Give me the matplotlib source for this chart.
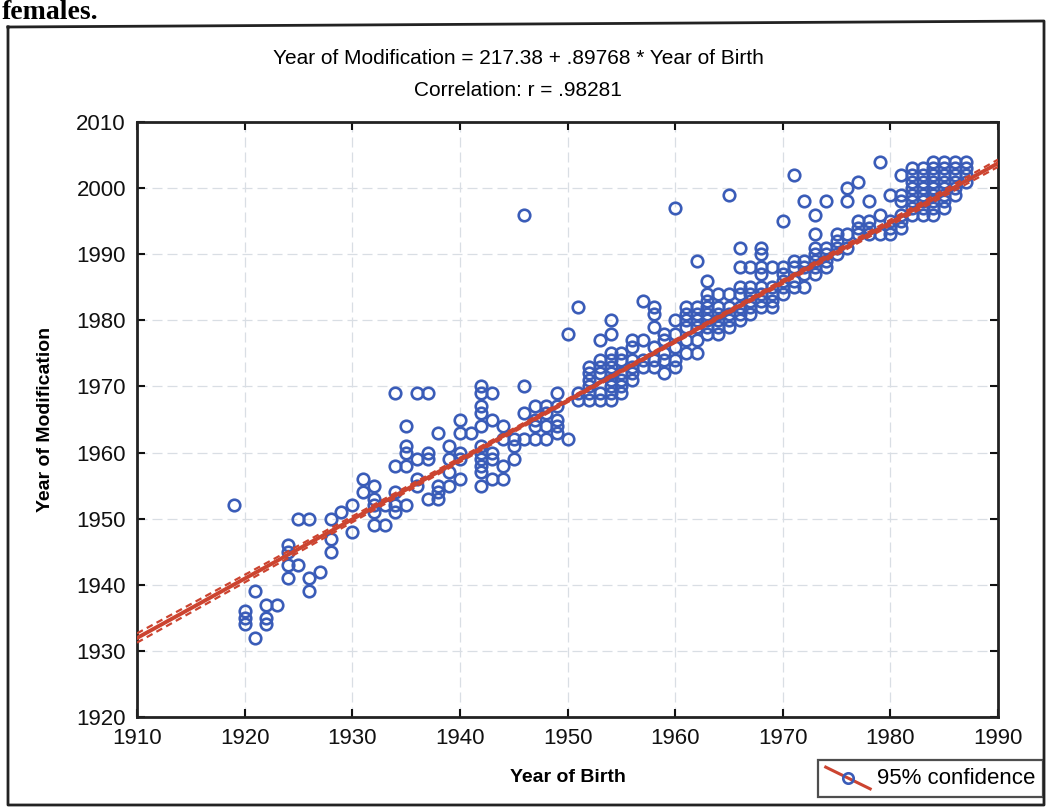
import numpy as np
import matplotlib
matplotlib.use("Agg")
import matplotlib.pyplot as plt
from matplotlib.lines import Line2D
from matplotlib.legend_handler import HandlerBase

plt.rcParams['font.family'] = ['Liberation Sans', 'DejaVu Sans']

# Year of birth (x) and the years of modification read for each birth year (y)
birth_years = list(range(1919, 1988))
mod_years = [
    [1952],                                   # 1919
    [1936, 1935, 1934],                       # 1920
    [1939, 1932],
    [1937, 1935, 1934],
    [1937],
    [1946, 1945, 1943, 1941],
    [1950, 1943],                             # 1925
    [1950, 1941, 1939],
    [1942],
    [1950, 1947, 1945],
    [1951],
    [1952, 1948],                             # 1930
    [1956, 1954],
    [1955, 1953, 1952, 1951, 1949],
    [1952, 1949],
    [1969, 1958, 1954, 1952, 1951],
    [1964, 1961, 1960, 1958, 1952],           # 1935
    [1969, 1959, 1956, 1955],
    [1969, 1960, 1959, 1953],
    [1963, 1955, 1954, 1953],
    [1961, 1959, 1957, 1955],
    [1965, 1963, 1960, 1959, 1956],           # 1940
    [1963],
    [1970, 1969, 1967, 1966, 1964, 1961, 1960, 1959, 1958, 1957, 1955],
    [1969, 1965, 1960, 1959, 1956],
    [1964, 1962, 1958, 1956],
    [1962, 1961, 1959],                       # 1945
    [1996, 1970, 1966, 1962],
    [1967, 1965, 1964, 1962],
    [1967, 1966, 1964, 1962],
    [1969, 1967, 1965, 1964, 1963],
    [1978, 1962],                             # 1950
    [1982, 1969, 1968],
    [1973, 1972, 1971, 1970, 1969, 1968],
    [1977, 1974, 1973, 1972, 1969, 1968],
    [1980, 1978, 1975, 1974, 1973, 1972, 1971, 1970, 1969, 1968],
    [1975, 1974, 1972, 1971, 1970, 1969],     # 1955
    [1977, 1976, 1974, 1973, 1972, 1971],
    [1983, 1977, 1974, 1973],
    [1982, 1981, 1979, 1976, 1974, 1973],
    [1978, 1977, 1975, 1974, 1972],
    [1997, 1980, 1978, 1976, 1974, 1973],     # 1960
    [1982, 1981, 1980, 1979, 1977, 1975],
    [1989, 1982, 1981, 1980, 1979, 1977, 1975],
    [1986, 1984, 1983, 1982, 1981, 1980, 1979, 1978],
    [1984, 1982, 1981, 1980, 1979, 1978],
    [1999, 1984, 1982, 1981, 1980, 1979],     # 1965
    [1991, 1988, 1985, 1984, 1982, 1981, 1980],
    [1988, 1985, 1984, 1983, 1982, 1981],
    [1991, 1990, 1988, 1987, 1985, 1984, 1983, 1982],
    [1988, 1985, 1984, 1983, 1982],
    [1995, 1988, 1987, 1986, 1985, 1984],     # 1970
    [2002, 1989, 1988, 1986, 1985],
    [1998, 1989, 1988, 1987, 1985],
    [1996, 1993, 1991, 1990, 1989, 1988, 1987],
    [1998, 1991, 1990, 1989, 1988],
    [1993, 1992, 1991, 1990],                 # 1975
    [2000, 1998, 1993, 1991],
    [2001, 1995, 1994, 1993],
    [1998, 1995, 1994, 1993],
    [2004, 1996, 1993],
    [1999, 1995, 1994, 1993],                 # 1980
    [2002, 1999, 1998, 1996, 1995, 1994],
    [2003, 2002, 2001, 2000, 1999, 1998, 1997, 1996],
    [2003, 2002, 2001, 2000, 1999, 1998, 1997, 1996],
    [2004, 2003, 2002, 2001, 2000, 1999, 1998, 1997, 1996],
    [2004, 2003, 2002, 2001, 2000, 1999, 1998, 1997],  # 1985
    [2004, 2003, 2002, 2001, 2000, 1999],
    [2004, 2003, 2002, 2001],
]

intercept = 217.38
slope = 0.89768

# half width of the 95% confidence band, read at the left end, middle and right end
band_x = [1910, 1950, 1990]
band_half = [0.7, 0.25, 0.55]

x_ticks = [1910, 1920, 1930, 1940, 1950, 1960, 1970, 1980, 1990]
y_ticks = [1920, 1930, 1940, 1950, 1960, 1970, 1980, 1990, 2000, 2010]

blue = '#3a5cb8'
red = '#cc4430'

# flatten
x = np.array([b for b, ys in zip(birth_years, mod_years) for _ in ys], dtype=float)
y = np.array([v for ys in mod_years for v in ys], dtype=float)

# regression line and its confidence band (hyperbola through the read widths)
xs = np.linspace(1910, 1990, 200)
fit = intercept + slope * xs
coef = np.polyfit(band_x, np.square(band_half), 2)
band = np.sqrt(np.clip(np.polyval(coef, xs), 0.01, None))

fig = plt.figure(figsize=(10.47, 8.09), dpi=100)
ax = fig.add_axes([137 / 1047, 1 - 717 / 809, (998 - 137) / 1047, (717 - 122) / 809])

ax.grid(True, color='#d9dee4', linestyle=(0, (8, 4)), linewidth=0.9)
ax.set_axisbelow(True)

ax.plot(x, y, 'o', mfc='none', mec=blue, ms=8.3, mew=1.9, zorder=3)
ax.plot(xs, fit, color=red, lw=2.8, zorder=4)
ax.plot(xs, fit + band, color=red, lw=1.6, ls=(0, (3, 2)), zorder=4)
ax.plot(xs, fit - band, color=red, lw=1.6, ls=(0, (3, 2)), zorder=4)

ax.set_xlim(1910, 1990)
ax.set_ylim(1920, 2010)
ax.set_xticks(x_ticks)
ax.set_yticks(y_ticks)
ax.tick_params(direction='in', top=True, right=True, length=6, width=1.5,
               labelsize=16, pad=8, colors='#111111')
for sp in ax.spines.values():
    sp.set_linewidth(2)
    sp.set_color('#222222')

ax.set_xlabel('Year of Birth', fontsize=14, fontweight='bold', labelpad=14)
ax.set_ylabel('Year of Modification', fontsize=14, fontweight='bold', labelpad=16)

fig.text(518 / 1047, 1 - 58 / 809, 'Year of Modification = 217.38 + .89768 * Year of Birth',
         ha='center', va='center', fontsize=15)
fig.text(518 / 1047, 1 - 90 / 809, 'Correlation: r = .98281',
         ha='center', va='center', fontsize=15)


class DiagHandler(HandlerBase):
    def create_artists(self, legend, orig_handle, xdescent, ydescent,
                       width, height, fontsize, trans):
        x0, y0 = -xdescent, -ydescent
        ln = Line2D([x0, x0 + width], [y0 + height * 1.1, y0 - height * 0.3],
                    color=red, lw=2.2, transform=trans)
        mk = Line2D([x0 + width / 2], [y0 + height * 0.4], marker='o', mfc='none',
                    mec=blue, ms=7.5, mew=1.9, ls='none', transform=trans)
        return [ln, mk]


handle = Line2D([], [], color=red)
leg = fig.legend([handle], ['95% confidence'], handler_map={Line2D: DiagHandler()},
                 loc='lower right', bbox_to_anchor=(1043 / 1047, 1 - 797 / 809),
                 fontsize=16, frameon=True, fancybox=False, handlelength=2.0,
                 borderpad=0.35, handletextpad=0.3, borderaxespad=0)
leg.get_frame().set_edgecolor('#222222')
leg.get_frame().set_linewidth(1.6)

# scanned page frame and the word above it
fig.add_artist(Line2D([8 / 1047, 1044 / 1047, 1044 / 1047, 8 / 1047, 8 / 1047],
                      [1 - 27 / 809, 1 - 21 / 809, 1 - 805 / 809, 1 - 805 / 809, 1 - 27 / 809],
                      transform=fig.transFigure, color='#222222', lw=2))
fig.text(2 / 1047, 1 - 19 / 809, 'females.', fontsize=20, fontweight='bold',
         family='Liberation Serif', va='baseline', ha='left')

fig.savefig('out.png', dpi=100)
